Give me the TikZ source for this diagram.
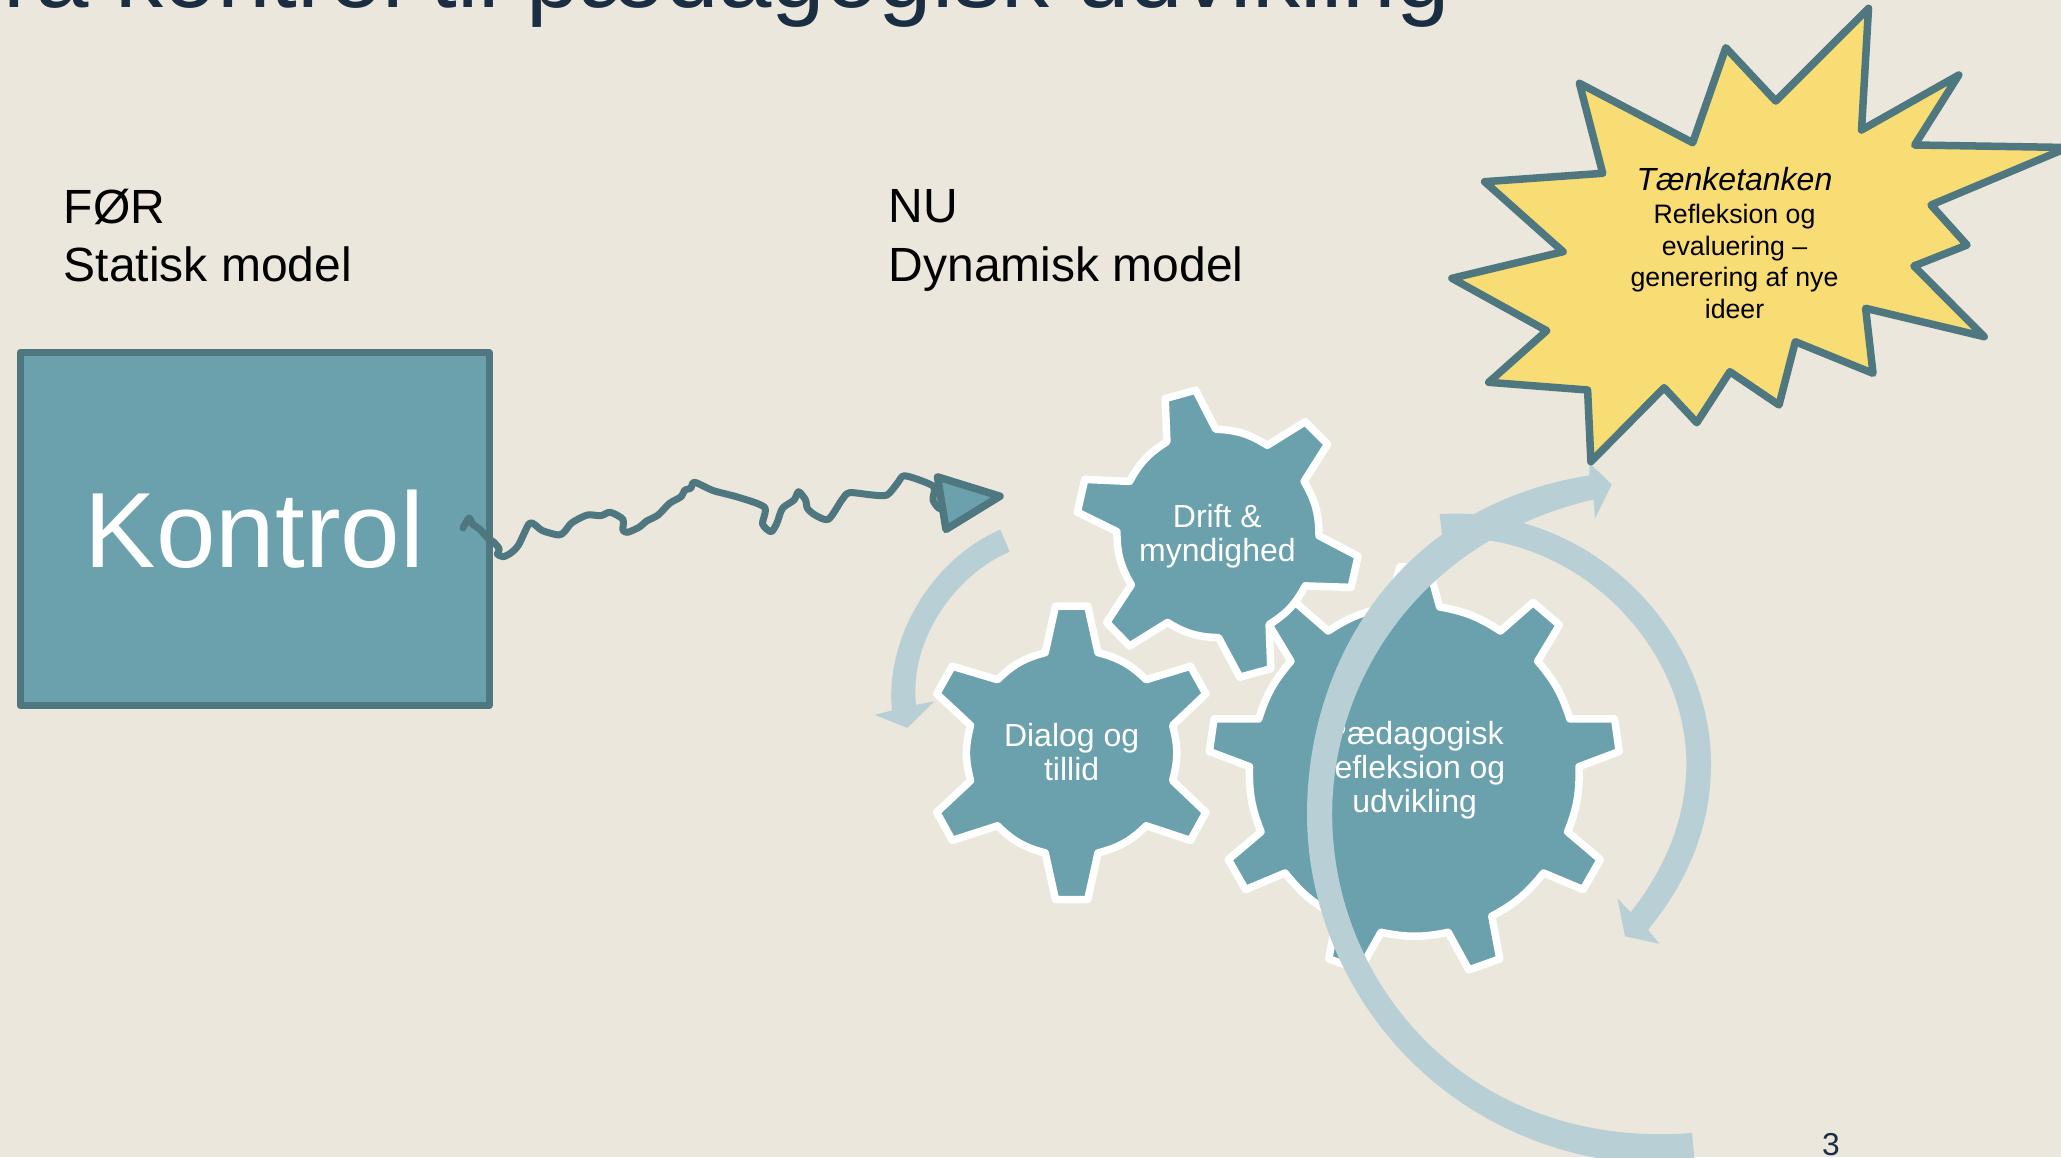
\documentclass[tikz,border=0pt]{standalone}
\usepackage{fontspec}
\setmainfont{Liberation Sans}
\definecolor{bgc}{HTML}{EBE7DC}
\definecolor{gearc}{HTML}{6AA1AD}
\definecolor{darkc}{HTML}{4E7780}
\definecolor{arrowc}{HTML}{B9CFD6}
\definecolor{starc}{HTML}{F8DC74}
\definecolor{titlec}{HTML}{1B2D42}
\newcommand{\fsz}[2]{\fontsize{#1}{#2}\selectfont}
\tikzset{
  gearshape/.style={fill=gearc,draw=white,line width=7.5pt,line join=round},
  geartext/.style={text=white,align=center,inner sep=0pt,font=\fsz{32}{34.3}},
  cyclearrow/.style={fill=arrowc,draw=none},
  labeltext/.style={text=black,align=left,inner sep=0pt,font=\fsz{48}{58.3}},
  startext/.style={text=black,align=center,inner sep=0pt,font=\fsz{26.7}{31.7}},
  startshape/.style={fill=starc,draw=darkc,line width=7.5pt,line join=round},
  wiggle/.style={draw=darkc,line width=7pt,line join=round,line cap=round},
  headshape/.style={fill=gearc,draw=darkc,line width=7.5pt,line join=round},
}
\begin{document}
\begin{tikzpicture}[x=1pt,y=-1pt]
\path[use as bounding box] (0,0) rectangle (2061,1157);
\clip (0,0) rectangle (2061,1157);
\fill[bgc] (0,0) rectangle (2061,1157);

% title
\node[anchor=base east,inner sep=0pt,text=titlec,font=\fsz{96}{100}] (title) at (1450,7) {Fra kontrol til pædagogisk udvikling};

% labels
\node[labeltext,anchor=north west] (before) at (63.5,188.5) {FØR\\Statisk model};
\node[labeltext,anchor=north west] (now) at (888.5,189.5) {NU\\Dynamisk model};

% Kontrol box
\node[draw=darkc,fill=gearc,line width=7pt,line join=round,minimum width=469pt,minimum height=353pt,inner sep=0pt,text=white,font=\fsz{107}{107},anchor=center] (kontrol) at (254.5,529) {\raisebox{-5pt}{Kontrol}};

% wiggly connector
\coordinate (wstart) at (463,528);
\coordinate (wend) at (945,508);
\draw[wiggle] plot[smooth,tension=0.45] coordinates {(wstart) (469,518) (472.5,524) (479.4,529) (487.8,538) (493.6,542) (499.3,549) (497.4,554) (503.1,556.7) (510.8,553) (518.5,545) (528.8,524) (533.8,524) (542.6,530.7) (558.6,535) (564.4,531.7) (572,522.7) (587.3,515) (600.7,515.7) (610.3,512.3) (622.9,519.3) (622.9,530) (627.5,532.3) (639,527.3) (646.7,521) (658.1,515) (669.6,503.3) (681.1,496.7) (684.9,490) (690.7,488.3) (694.5,482.3) (713.6,490.7) (738.5,497.3) (764.5,507.3) (762.6,524) (771,531.7) (776.8,523.3) (782.5,508.3) (794,500) (798.6,491.7) (805.5,500) (807.4,508.3) (815,515) (828.4,519.3) (841.8,500) (849.5,492.7) (872.5,495) (887,495) (897.3,483.3) (903.1,476) (914.6,478.3) (933.7,486.7) (933,500) (939,508.3) (wend)};
\draw[headshape] (937.4,476.8) -- (1000,496.2) -- (946,529.4) -- cycle;

% large gear
\draw[gearshape] (1399.9,566.8) -- (1428.6,566.8) -- (1439.6,606.9) to[bend left=11.5] (1500.4,631) -- (1533.1,602.4) -- (1559.5,625) -- (1537.7,661.2) to[bend left=11.5] (1569.9,718.9) -- (1614.6,718.9) -- (1619.2,751.5) -- (1579,766.6) to[bend left=11.5] (1567.6,831.8) -- (1600.3,859.5) -- (1583.1,889.6) -- (1543.5,873) to[bend left=11.5] (1491.8,916.2) -- (1499.8,958.9) -- (1468.8,969.9) -- (1448.2,932.3) to[bend left=11.5] (1381,932.3) -- (1359.8,969.9) -- (1328.8,958.9) -- (1336.8,916.2) to[bend left=11.5] (1285.1,873) -- (1245.5,889.6) -- (1228.3,859.5) -- (1261,831.8) to[bend left=11.5] (1249.5,766.6) -- (1209.4,751.5) -- (1214,718.9) -- (1258.7,718.9) to[bend left=11.5] (1290.9,661.2) -- (1269.1,625) -- (1295.5,602.4) -- (1328.2,631) to[bend left=11.5] (1389,606.9) -- cycle;
\node[geartext] (gearbig) at (1414.6,770.3) {Pædagogisk\\refleksion og\\udvikling};

% drift gear
\draw[gearshape] (1165.2,398.6) -- (1195.6,390.1) -- (1215.7,429.2) to[bend left=15] (1267.3,445.3) -- (1305.2,421.7) -- (1327.6,444.3) -- (1304.1,481.4) to[bend left=15] (1319,535.7) -- (1358,556.2) -- (1351.1,587.4) -- (1305.2,585.9) to[bend left=15] (1269.1,624.5) -- (1270.8,668.7) -- (1239.8,677.2) -- (1218.5,637.6) to[bend left=15] (1167.5,622.5) -- (1129.6,646.1) -- (1106.6,622.5) -- (1131.3,584.9) to[bend left=15] (1116.9,531.6) -- (1077.3,512.1) -- (1084.8,479.4) -- (1129.6,481.4) to[bend left=15] (1166.9,441.8) -- cycle;
\node[geartext] (geardrift) at (1217.4,536.3) {Drift \&\\myndighed};

% dialog gear
\draw[gearshape] (1055.5,606) -- (1087.7,606) -- (1098,652.6) to[bend left=15] (1146.2,679.7) -- (1190.4,666.2) -- (1205.9,693.8) -- (1172.6,725.4) to[bend left=15] (1172.6,780.6) -- (1205.9,812.3) -- (1190.4,840.4) -- (1146.2,825.8) to[bend left=15] (1098,852.9) -- (1087.7,899.6) -- (1055.5,899.6) -- (1045.2,852.9) to[bend left=15] (997.5,825.8) -- (952.2,840.4) -- (936.7,812.3) -- (970.6,780.6) to[bend left=15] (970.6,725.4) -- (936.7,693.8) -- (952.2,666.2) -- (997.5,679.7) to[bend left=15] (1045.2,652.6) -- cycle;
\node[geartext] (geardialog) at (1071.6,752.3) {Dialog og\\tillid};

% cycle arrows
\fill[cyclearrow] (1000.4,529.6) .. controls (930,560) and (885,640) .. (891.9,710.4) -- (874.7,714.9) -- (907.4,727.9) -- (934.4,701.3) -- (916,704.8) .. controls (909,640) and (955,575) .. (1009.6,551.7) -- cycle;
\fill[cyclearrow] (1439.6,514.1) .. controls (1590,505) and (1711,630) .. (1711,764) .. controls (1711,830) and (1685,885) .. (1648,929.7) -- (1659.4,943.8) -- (1625,936.3) -- (1617.5,898.6) -- (1630.7,912.2) .. controls (1660,875) and (1686,825) .. (1686.4,764) .. controls (1686,640) and (1570,530) .. (1442.4,538.2) -- cycle;
\fill[cyclearrow] (1695,1165) .. controls (1450,1175) and (1307,990) .. (1307,814.3) .. controls (1307,660) and (1400,505) .. (1589.4,475.4) -- (1589.4,462.9) -- (1611.8,484.5) -- (1595.1,518.1) -- (1593.4,499.5) .. controls (1420,540) and (1332,680) .. (1332.2,814.3) .. controls (1332,985) and (1470,1150) .. (1692,1133) -- cycle;

% burst
\draw[startshape] (1868.5,8.3) -- (1861.5,130) -- (1958.8,75) -- (1914.7,145) -- (2068,147.5) -- (1931,205) -- (1967,245) -- (1913.9,266) -- (1984.2,336.7) -- (1865.6,308.3) -- (1873,373.3) -- (1795.3,341.7) -- (1779,405) -- (1729.9,371.7) -- (1696.8,422.7) -- (1664.1,387.7) -- (1590.9,461.7) -- (1587.6,390) -- (1488.7,382.3) -- (1546.7,330.7) -- (1451.9,278.3) -- (1563.1,251.7) -- (1484.6,181.7) -- (1602.7,173.3) -- (1579.4,83.3) -- (1692.7,142.7) -- (1725.8,47.7) -- (1775.7,101) -- cycle;
\node[startext] (burst) at (1734.5,243) {{\fsz{32}{32}\itshape Tænketanken}\\[1.3pt]Refleksion og\\evaluering –\\generering af nye\\ideer};

% page number
\node[anchor=base,inner sep=0pt,text=titlec,font=\fsz{31.7}{32}] (pagenum) at (1831,1155) {3};
\end{tikzpicture}
\end{document}
